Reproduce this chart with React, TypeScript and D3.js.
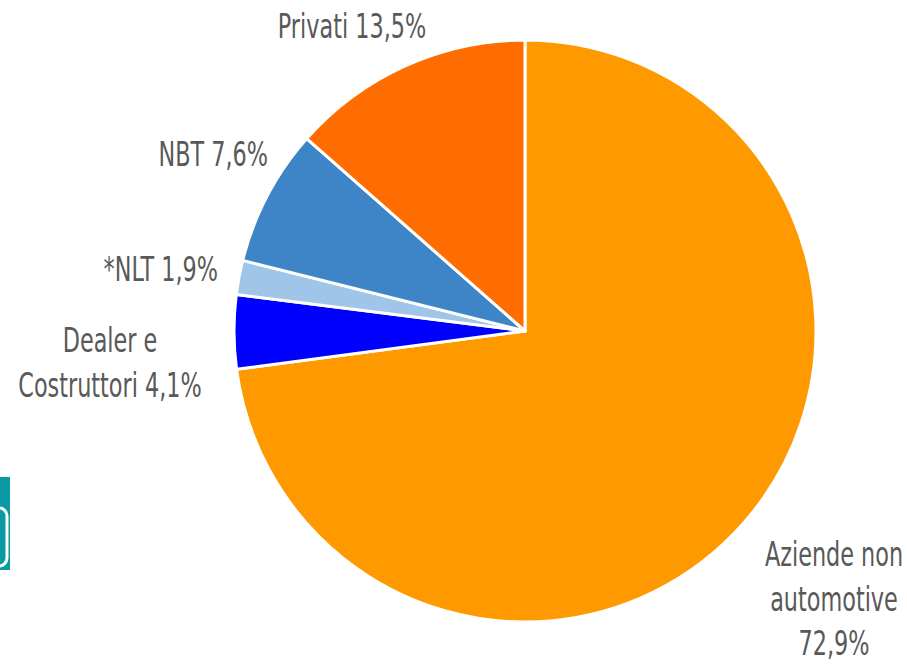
import React, { useEffect, useRef } from "react";
import * as d3 from "d3";

const categories = ["Aziende non automotive", "Dealer e Costruttori", "*NLT", "NBT", "Privati"];
const shares = [72.9, 4.1, 1.9, 7.6, 13.5];
const colors = ["#ff9900", "#0000ff", "#9fc5e8", "#3d85c6", "#ff6d01"];
const labelLines = [
  ["Aziende non", "automotive", "72,9%"],
  ["Dealer e", "Costruttori 4,1%"],
  ["*NLT 1,9%"],
  ["NBT 7,6%"],
  ["Privati 13,5%"],
];
// label anchor: x, first baseline, text-anchor
const labelPos: [number, number, string][] = [
  [834, 566, "middle"],
  [110, 352, "middle"],
  [218, 281, "end"],
  [268, 166, "end"],
  [352, 38, "middle"],
];

export default function App() {
  const svgRef = useRef<SVGSVGElement>(null);

  useEffect(() => {
    const width = 907;
    const height = 664;
    const cx = 525;
    const cy = 331;
    const radius = 291;

    const svg = d3.select(svgRef.current);
    svg.selectAll("*").remove();

    svg.append("rect").attr("width", width).attr("height", height).attr("fill", "#fff");

    // teal badge clipped at left edge
    svg.append("rect").attr("x", -20).attr("y", 477).attr("width", 30).attr("height", 93).attr("fill", "#0a9aa5");
    svg.append("rect")
      .attr("x", -20).attr("y", 508).attr("width", 27).attr("height", 58)
      .attr("rx", 8).attr("fill", "none").attr("stroke", "#fff").attr("stroke-width", 3);

    const pie = d3.pie<number>().sort(null).value(d => d);
    const arcs = pie(shares);
    const arc = d3.arc<d3.PieArcDatum<number>>().innerRadius(0).outerRadius(radius);

    svg.append("g")
      .attr("transform", `translate(${cx},${cy})`)
      .selectAll("path")
      .data(arcs)
      .join("path")
      .attr("d", arc)
      .attr("fill", (d, i) => colors[i])
      .attr("stroke", "#fff")
      .attr("stroke-width", 3)
      .attr("stroke-linejoin", "round");

    const labels = svg.append("g")
      .style("font-family", "'DejaVu Sans Condensed', 'Liberation Sans Narrow', sans-serif")
      .style("font-size", "27px")
      .attr("fill", "#595959");

    categories.forEach((c, i) => {
      const [x, y, anchor] = labelPos[i];
      labelLines[i].forEach((line, j) => {
        labels.append("text")
          .attr("transform", `translate(${x},${y + j * 44.5}) scale(0.92,1.24)`)
          .attr("text-anchor", anchor)
          .text(line);
      });
    });
  }, []);

  return (
    <svg
      ref={svgRef}
      width={907}
      height={664}
      style={{ position: "absolute", left: 0, top: 0 }}
    />
  );
}
